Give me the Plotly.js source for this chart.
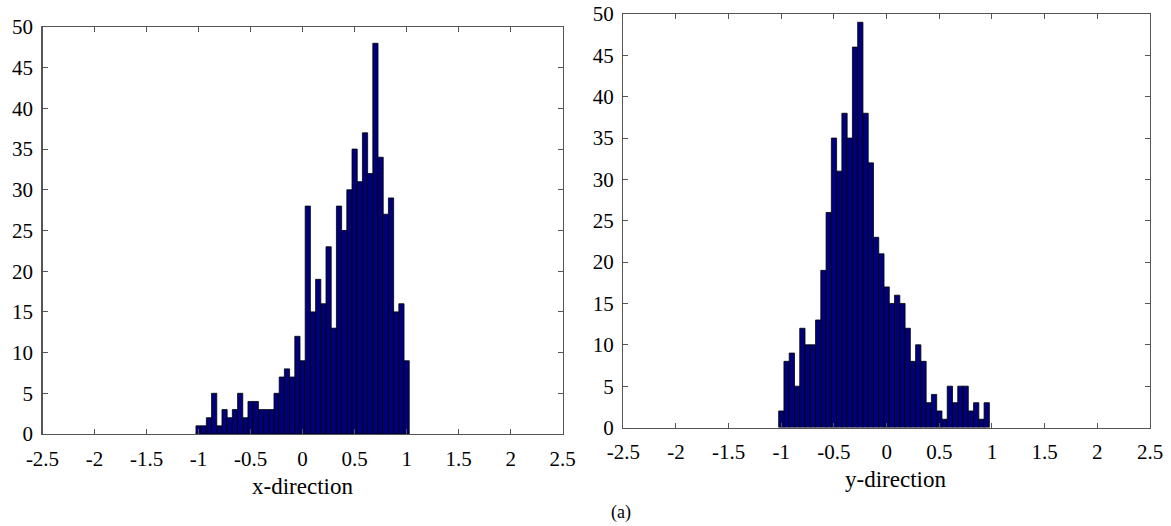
<!DOCTYPE html>
<html>
<head>
<meta charset="utf-8">
<script src="https://cdn.plot.ly/plotly-3.0.1.min.js"></script>
<style>
  html, body { margin: 0; padding: 0; background: #ffffff; }
  #chart { width: 1171px; height: 526px; }
</style>
</head>
<body>
<div id="chart"></div>
<script>
// Bin centres (bin width 0.05)
const xDirCenters = [-1.00,-0.95,-0.90,-0.85,-0.80,-0.75,-0.70,-0.65,-0.60,-0.55,-0.50,-0.45,-0.40,-0.35,-0.30,-0.25,-0.20,-0.15,-0.10,-0.05,0.00,0.05,0.10,0.15,0.20,0.25,0.30,0.35,0.40,0.45,0.50,0.55,0.60,0.65,0.70,0.75,0.80,0.85,0.90,0.95,1.00];
const xDirCounts  = [1,1,2,5,1,3,2,3,5,2,4,4,3,3,3,5,7,8,7,12,9,28,15,19,16,23,13,28,25,30,35,31,37,32,48,34,27,29,15,16,9];

const yDirCenters = [-1.00,-0.95,-0.90,-0.85,-0.80,-0.75,-0.70,-0.65,-0.60,-0.55,-0.50,-0.45,-0.40,-0.35,-0.30,-0.25,-0.20,-0.15,-0.10,-0.05,0.00,0.05,0.10,0.15,0.20,0.25,0.30,0.35,0.40,0.45,0.50,0.55,0.60,0.65,0.70,0.75,0.80,0.85,0.90,0.95];
const yDirCounts  = [2,8,9,5,12,10,10,13,19,26,35,31,38,35,46,49,38,32,23,21,17,15,16,15,12,8,10,8,3,4,2,1,5,3,5,5,2,3,1,3];

const xTickVals = [-2.5,-2,-1.5,-1,-0.5,0,0.5,1,1.5,2,2.5];
const xTickText = ["-2.5","-2","-1.5","-1","-0.5","0","0.5","1","1.5","2","2.5"];
const yTickVals = [0,5,10,15,20,25,30,35,40,45,50];
const yTickText = ["0","5","10","15","20","25","30","35","40","45","50"];

const W = 1171, H = 526;
const FONT = "Liberation Serif";
const barColor = "#00007a";

const traces = [
  { type: "bar", x: xDirCenters, y: xDirCounts, width: 0.05, xaxis: "x", yaxis: "y",
    marker: { color: barColor, line: { color: "#000000", width: 0.8 } }, hoverinfo: "x+y" },
  { type: "bar", x: yDirCenters, y: yDirCounts, width: 0.05, xaxis: "x2", yaxis: "y2",
    marker: { color: barColor, line: { color: "#000000", width: 0.8 } }, hoverinfo: "x+y" }
];

function xAx(domPx, anchor) {
  return {
    domain: [domPx[0] / W, domPx[1] / W], anchor: anchor,
    range: [-2.5, 2.5], tickvals: xTickVals, ticktext: xTickText,
    ticks: "inside", ticklen: 5, tickcolor: "#555555", tickwidth: 1,
    showline: true, linecolor: "#555555", linewidth: 1.3, mirror: "ticks",
    showgrid: false, zeroline: false, ticklabelstandoff: 5,
    tickfont: { family: FONT, size: 21, color: "#000000" }, fixedrange: true
  };
}
function yAx(domPx, anchor) {
  return {
    domain: [(H - domPx[1]) / H, (H - domPx[0]) / H], anchor: anchor,
    range: [0, 50], tickvals: yTickVals, ticktext: yTickText,
    ticks: "inside", ticklen: 5, tickcolor: "#555555", tickwidth: 1,
    showline: true, linecolor: "#555555", linewidth: 1.3, mirror: "ticks",
    showgrid: false, zeroline: false, ticklabelstandoff: 4,
    tickfont: { family: FONT, size: 21, color: "#000000" }, fixedrange: true
  };
}

const layout = {
  width: W, height: H,
  margin: { l: 0, r: 0, t: 0, b: 0 },
  paper_bgcolor: "#ffffff", plot_bgcolor: "#ffffff",
  showlegend: false, bargap: 0,
  font: { family: FONT },
  xaxis: xAx([42.5, 562.7], "y"),
  yaxis: yAx([27, 434], "x"),
  xaxis2: xAx([623.3, 1150], "y2"),
  yaxis2: yAx([14, 427.5], "x2"),
  annotations: [
    { text: "x-direction", xref: "paper", yref: "paper", x: 302 / W, y: 1 - 486 / H,
      xanchor: "center", yanchor: "middle", showarrow: false,
      font: { family: FONT, size: 23, color: "#000000" } },
    { text: "y-direction", xref: "paper", yref: "paper", x: 895 / W, y: 1 - 479 / H,
      xanchor: "center", yanchor: "middle", showarrow: false,
      font: { family: FONT, size: 23, color: "#000000" } },
    { text: "(a)", xref: "paper", yref: "paper", x: 621 / W, y: 1 - 512 / H,
      xanchor: "center", yanchor: "middle", showarrow: false,
      font: { family: FONT, size: 18, color: "#000000" } }
  ]
};

Plotly.newPlot("chart", traces, layout, { displayModeBar: false, staticPlot: true });
</script>
</body>
</html>
